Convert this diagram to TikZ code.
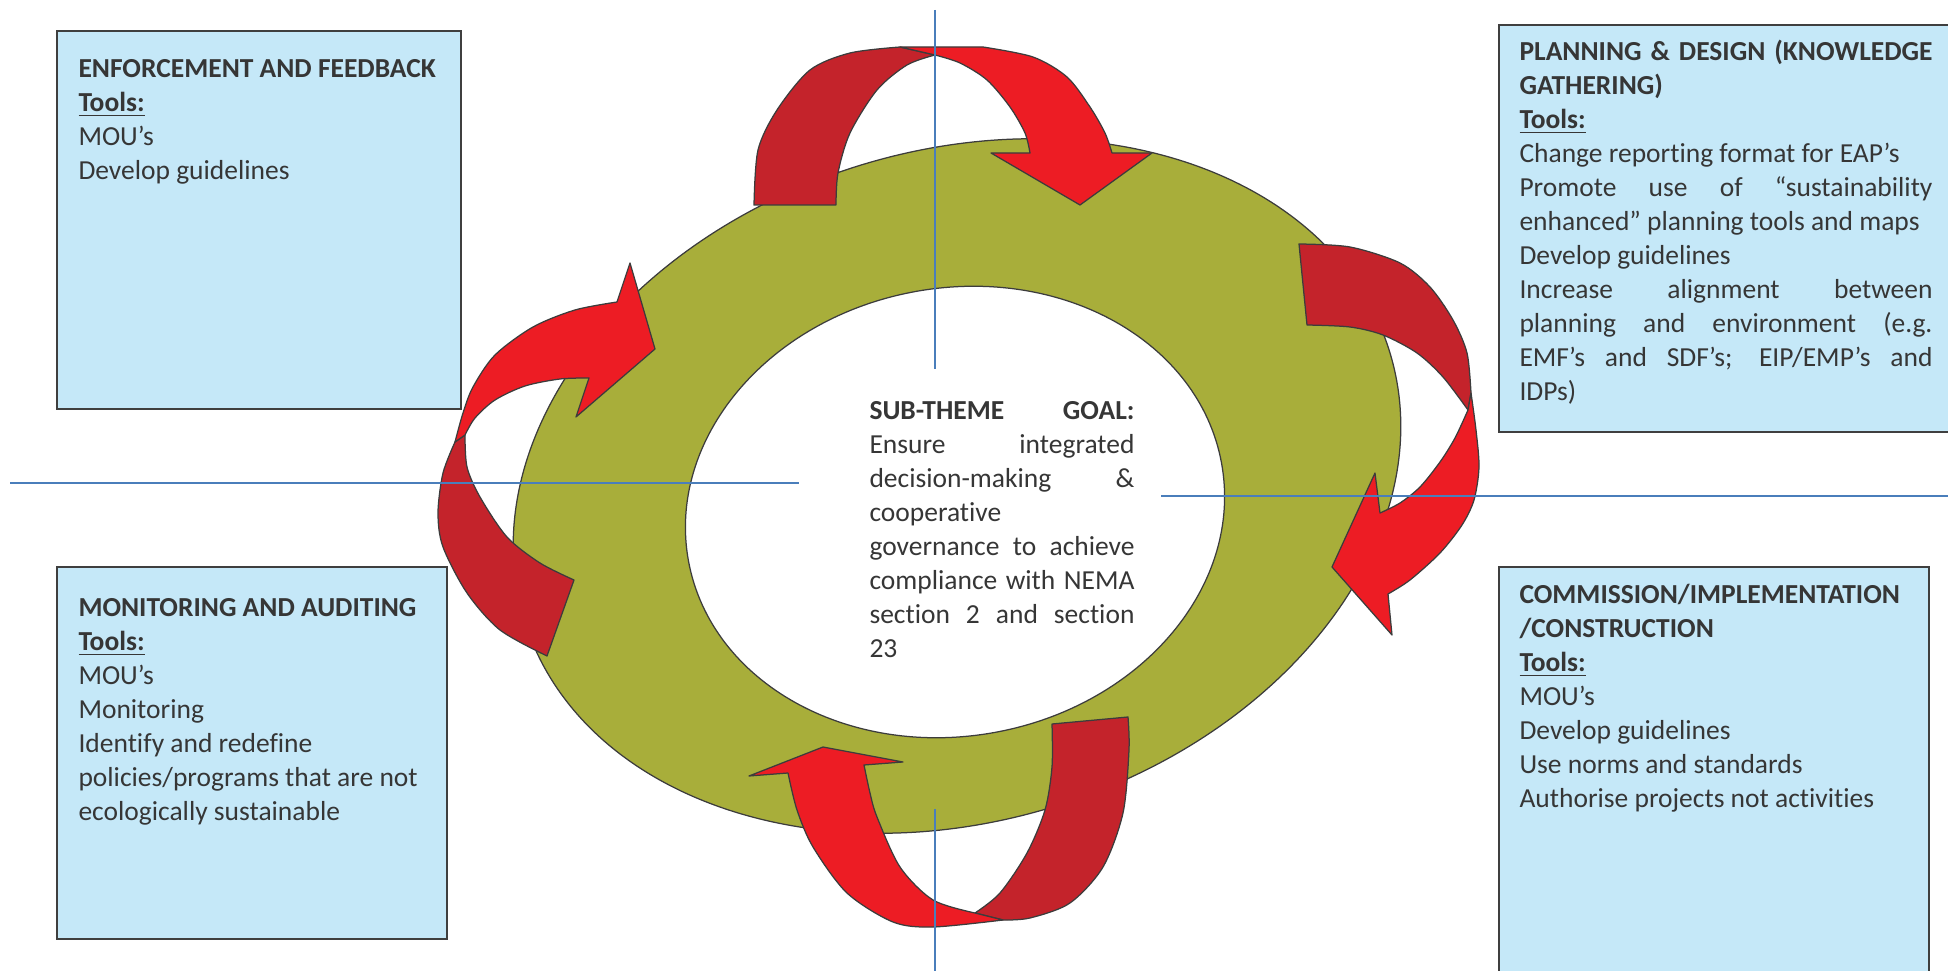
\documentclass[tikz,border=0pt]{standalone}
\usepackage{fontspec}
\setmainfont{Carlito}[Ligatures=CommonOff]
\usepackage{xcolor}
\usepackage{tikz}

\definecolor{boxblue}{HTML}{C5E8F8}
\definecolor{boxgray}{HTML}{3F3F3F}
\definecolor{ringgreen}{HTML}{A8AE3A}
\definecolor{arrowred}{HTML}{ED1C24}
\definecolor{arrowdark}{HTML}{C4232B}
\definecolor{linegray}{HTML}{3C3C3C}
\definecolor{guideblue}{HTML}{4A7EBB}
\definecolor{textgray}{HTML}{363636}

% one justified line of a box
\newcommand{\jline}[1]{\makebox[\hsize][s]{#1}}

\begin{document}
\begin{tikzpicture}[x=0.4pt, y=-0.4pt,
    toolbox/.style={fill=boxblue, draw=boxgray, line width=0.8pt},
    boxtext/.style={anchor=north west, inner sep=0pt, align=flush left, text=textgray,
      font=\fontsize{11}{13.6}\selectfont},
    ring/.style={draw=linegray, line width=0.5pt},
    frontband/.style={fill=arrowred, draw=linegray, line width=0.5pt, line join=round},
    backband/.style={fill=arrowdark, draw=linegray, line width=0.5pt, line join=round},
    guide/.style={draw=guideblue, line width=0.6pt}]
    \useasboundingbox (0,0) rectangle (1948,971);

    \draw[toolbox] (57,31) rectangle (461,409);
    \draw[toolbox] (1499,25) rectangle (1955,432);
    \draw[toolbox] (57,567) rectangle (447,939);
    \draw[toolbox] (1499,567) rectangle (1929,980);

    \draw[ring, fill=ringgreen, rotate around={17.4:(957,486)}] (957,486) ellipse [x radius=453, y radius=335];
    \draw[ring, fill=white, rotate around={10.5:(955,512)}] (955,512) ellipse [x radius=271, y radius=224];

    % top arrow
    \filldraw[backband] plot[smooth] coordinates {(754,205) (758,150) (777,110) (810,70) (850,53) (900,47)}
      -- plot[smooth] coordinates {(935,55) (907,65) (877,90) (850,133) (838,173) (836,205)} -- cycle;
    \filldraw[frontband] (900,47) -- plot[smooth] coordinates {(983,47) (1033,57) (1067,77) (1090,107) (1105,133) (1112,153)}
      -- (1152,153) -- (1080,205) -- (991,153)
      -- plot[smooth] coordinates {(1030,153) (1025,133) (1010,107) (987,80) (960,63) (935,55)} -- cycle;

    % left arrow
    \filldraw[backband] plot[smooth] coordinates {(547,656) (500,630) (467,593) (443,547) (438,513) (443,473) (455,442)}
      -- plot[smooth] coordinates {(465,435) (467,467) (480,497) (507,537) (540,563) (574,580)} -- cycle;
    \filldraw[frontband] plot[smooth] coordinates {(455,442) (463,413) (473,387) (495,355) (533,327) (575,310) (617,302)}
      -- (630,263) -- (655,349) -- (576,417)
      -- plot[smooth] coordinates {(589,378) (560,379) (525,386) (495,400) (475,418) (465,435)} -- cycle;

    % right arrow
    \filldraw[backband] plot[smooth] coordinates {(1299,244) (1350,247) (1400,263) (1430,287) (1453,320) (1467,353) (1471,393)}
      -- plot[smooth] coordinates {(1468,410) (1443,377) (1417,353) (1383,335) (1350,327) (1307,325)} -- cycle;
    \filldraw[frontband] plot[smooth] coordinates {(1471,393) (1476,430) (1479,467) (1474,500) (1462,525) (1440,553) (1410,580) (1388,594)}
      -- (1392,635) -- (1332,567) -- (1375,473)
      -- plot[smooth] coordinates {(1380,513) (1400,503) (1420,487) (1440,462) (1455,438) (1468,410)} -- cycle;

    % bottom arrow
    \filldraw[backband] plot[smooth] coordinates {(1128,717) (1129,750) (1123,813) (1103,867) (1070,903) (1030,918) (1003,920)}
      -- plot[smooth] coordinates {(975,913) (1000,893) (1027,853) (1045,810) (1052,767) (1052,724)} -- cycle;
    \filldraw[frontband] plot[smooth] coordinates {(1003,920) (933,927) (893,922) (847,893) (813,847) (797,810) (788,773)}
      -- (749,776) -- (823,747) -- (903,762)
      -- plot[smooth] coordinates {(864,765) (870,793) (877,817) (900,867) (933,900) (975,913)} -- cycle;

    \draw[guide] (935,10) -- (935,369);
    \draw[guide] (935,809) -- (935,975);
    \draw[guide] (10,483) -- (799,483);
    \draw[guide] (1161,496) -- (1955,496);

    \node[boxtext, text width=148pt] (enforcement) at (78,53.2) {\strut\textbf{ENFORCEMENT AND FEEDBACK}\\
      \textbf{\underline{Tools:}}\\ MOU’s\\ Develop guidelines};
    \node[boxtext, text width=165.2pt] (planning) at (1519,36.2) {\strut\jline{\textbf{PLANNING \& DESIGN (KNOWLEDGE}}\\
      \textbf{GATHERING)}\\ \textbf{\underline{Tools:}}\\
      Change reporting format for EAP’s\\
      \jline{Promote use of “sustainability}\\
      enhanced” planning tools and maps\\
      Develop guidelines\\
      \jline{Increase alignment between}\\
      \jline{planning and environment (e.g.}\\
      \jline{EMF’s and SDF’s; EIP/EMP’s and}\\
      IDPs)};
    \node[boxtext, text width=146pt] (monitoring) at (78,592.2) {\strut\textbf{MONITORING AND AUDITING}\\
      \textbf{\underline{Tools:}}\\ MOU’s\\ Monitoring\\ Identify and redefine\\
      policies/programs that are not\\ ecologically sustainable};
    \node[boxtext, text width=164pt] (commission) at (1519,579.2) {\strut\textbf{COMMISSION/IMPLEMENTATION}\\
      \textbf{/CONSTRUCTION}\\ \textbf{\underline{Tools:}}\\ MOU’s\\ Develop guidelines\\
      Use norms and standards\\ Authorise projects not activities};
    \node[boxtext, text width=106pt] (goal) at (869,395.2) {\strut\jline{\textbf{SUB-THEME GOAL:}}\\
      \jline{Ensure integrated}\\ \jline{decision-making \&}\\ cooperative\\
      \jline{governance to achieve}\\ \jline{compliance with NEMA}\\
      \jline{section 2 and section}\\ 23};
  \end{tikzpicture}
\end{document}
